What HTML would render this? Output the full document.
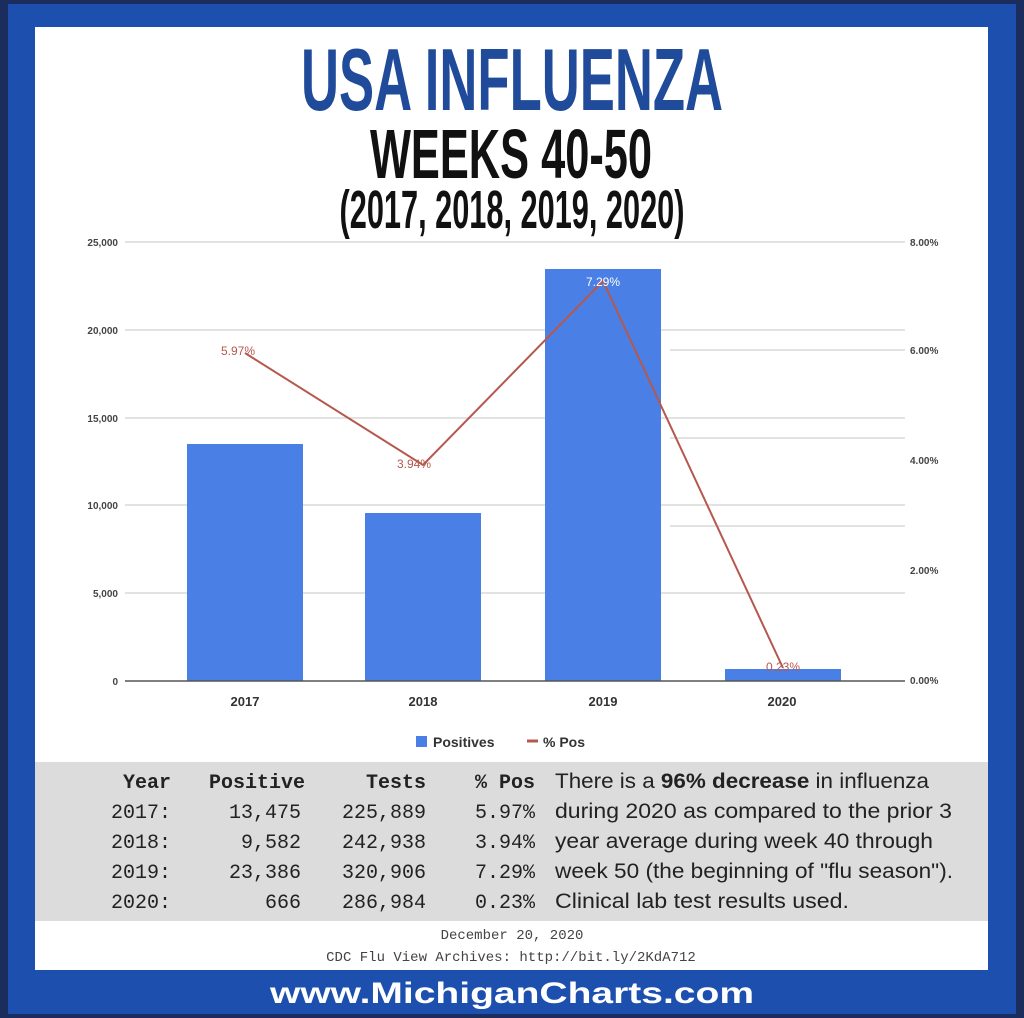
<!DOCTYPE html>
<html><head><meta charset="utf-8"><style>
html,body{margin:0;padding:0;background:#1b2d5c;}
svg{display:block}
</style></head><body>
<svg width="1024" height="1018" viewBox="0 0 1024 1018" xmlns="http://www.w3.org/2000/svg">
<rect x="0" y="0" width="1024" height="1018" fill="#1b2d5c"/>
<rect x="8" y="4" width="1008" height="1010" fill="#1d4faf"/>
<rect x="35" y="27" width="953" height="943" fill="#ffffff"/>
<text x="512" y="110" text-anchor="middle" font-family="Liberation Sans Narrow, Liberation Sans, sans-serif" font-weight="bold" font-size="88" fill="#1f4b9a" textLength="422" lengthAdjust="spacingAndGlyphs">USA INFLUENZA</text>
<text x="511" y="178" text-anchor="middle" font-family="Liberation Sans Narrow, Liberation Sans, sans-serif" font-weight="bold" font-size="70" fill="#111" textLength="282" lengthAdjust="spacingAndGlyphs">WEEKS 40-50</text>
<text x="512" y="228" text-anchor="middle" font-family="Liberation Sans Narrow, Liberation Sans, sans-serif" font-weight="bold" font-size="54" fill="#111" textLength="345" lengthAdjust="spacingAndGlyphs">(2017, 2018, 2019, 2020)</text>
<g stroke="#d8d8d8" stroke-width="1.5">
<line x1="125" y1="242" x2="905" y2="242"/>
<line x1="125" y1="330" x2="905" y2="330"/>
<line x1="125" y1="418" x2="905" y2="418"/>
<line x1="125" y1="505" x2="905" y2="505"/>
<line x1="125" y1="593" x2="905" y2="593"/>
<line x1="670" y1="350" x2="905" y2="350"/>
<line x1="670" y1="438" x2="905" y2="438"/>
<line x1="670" y1="526" x2="905" y2="526"/>
</g>
<g font-family="Liberation Sans, sans-serif" font-weight="bold" font-size="10" fill="#444">
<text x="118" y="246" text-anchor="end">25,000</text>
<text x="118" y="334" text-anchor="end">20,000</text>
<text x="118" y="422" text-anchor="end">15,000</text>
<text x="118" y="509" text-anchor="end">10,000</text>
<text x="118" y="597" text-anchor="end">5,000</text>
<text x="118" y="685" text-anchor="end">0</text>
<text x="910" y="246">8.00%</text>
<text x="910" y="354">6.00%</text>
<text x="910" y="464">4.00%</text>
<text x="910" y="574">2.00%</text>
<text x="910" y="684">0.00%</text>
</g>
<g fill="#4a80e6">
<rect x="187" y="444" width="116" height="237"/>
<rect x="365" y="513" width="116" height="168"/>
<rect x="545" y="269" width="116" height="412"/>
<rect x="725" y="669" width="116" height="12"/>
</g>
<line x1="125" y1="681" x2="905" y2="681" stroke="#555" stroke-width="1.5"/>
<polyline points="245,353 423,465 603,281 783,668" fill="none" stroke="#b5584e" stroke-width="2"/>
<g font-family="Liberation Sans, sans-serif" font-size="12" fill="#b5584e" text-anchor="middle">
<text x="238" y="355">5.97%</text>
<text x="414" y="468">3.94%</text>
<text x="603" y="286" fill="#fff">7.29%</text>
<text x="783" y="671">0.23%</text>
</g>
<g font-family="Liberation Sans, sans-serif" font-weight="bold" font-size="13" fill="#333" text-anchor="middle">
<text x="245" y="706">2017</text>
<text x="423" y="706">2018</text>
<text x="603" y="706">2019</text>
<text x="782" y="706">2020</text>
</g>
<rect x="416" y="736" width="11" height="11" fill="#4a80e6"/>
<text x="433" y="747" font-family="Liberation Sans, sans-serif" font-weight="bold" font-size="14" fill="#333">Positives</text>
<line x1="527" y1="741" x2="538" y2="741" stroke="#b5584e" stroke-width="3"/>
<text x="543" y="747" font-family="Liberation Sans, sans-serif" font-weight="bold" font-size="14" fill="#333">% Pos</text>
<rect x="35" y="762" width="953" height="159" fill="#dcdcdc"/>
<g font-family="Liberation Mono, monospace" font-size="20" fill="#222" text-anchor="end">
<g font-weight="bold"><text x="171" y="788">Year</text><text x="305" y="788">Positive</text><text x="426" y="788">Tests</text><text x="535" y="788">% Pos</text></g>
<text x="171" y="818">2017:</text><text x="301" y="818">13,475</text><text x="426" y="818">225,889</text><text x="535" y="818">5.97%</text>
<text x="171" y="848">2018:</text><text x="301" y="848">9,582</text><text x="426" y="848">242,938</text><text x="535" y="848">3.94%</text>
<text x="171" y="878">2019:</text><text x="301" y="878">23,386</text><text x="426" y="878">320,906</text><text x="535" y="878">7.29%</text>
<text x="171" y="908">2020:</text><text x="301" y="908">666</text><text x="426" y="908">286,984</text><text x="535" y="908">0.23%</text>
</g>
<g font-family="Liberation Sans, sans-serif" font-size="21" fill="#222">
<text x="555" y="788" textLength="374" lengthAdjust="spacingAndGlyphs">There is a <tspan font-weight="bold">96% decrease</tspan> in influenza</text>
<text x="555" y="818" textLength="397" lengthAdjust="spacingAndGlyphs">during 2020 as compared to the prior 3</text>
<text x="555" y="848" textLength="378" lengthAdjust="spacingAndGlyphs">year average during week 40 through</text>
<text x="555" y="878" textLength="398" lengthAdjust="spacingAndGlyphs">week 50 (the beginning of "flu season").</text>
<text x="555" y="908" textLength="294" lengthAdjust="spacingAndGlyphs">Clinical lab test results used.</text>
</g>
<g font-family="Liberation Mono, monospace" font-size="14" fill="#444" text-anchor="middle">
<text x="512" y="939">December 20, 2020</text>
<text x="511" y="961">CDC Flu View Archives: http://bit.ly/2KdA712</text>
</g>
<text x="512" y="1003" text-anchor="middle" font-family="Liberation Sans, sans-serif" font-weight="bold" font-size="30" fill="#fff" textLength="484" lengthAdjust="spacingAndGlyphs">www.MichiganCharts.com</text>
</svg>
</body></html>
